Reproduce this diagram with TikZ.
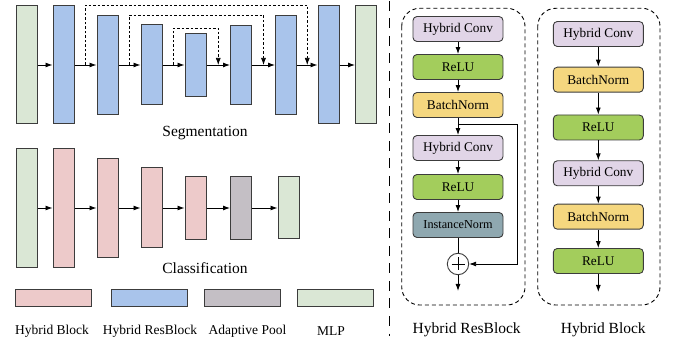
\documentclass[tikz,border=0pt]{standalone}
\usepackage{fontspec}
\setmainfont{Liberation Serif}
\usetikzlibrary{arrows.meta,calc,positioning}

\definecolor{mlpgreen}{HTML}{DAE7D5}
\definecolor{resblue}{HTML}{A9C4EB}
\definecolor{blockpink}{HTML}{EDCACA}
\definecolor{poolgray}{HTML}{C4BFC5}
\definecolor{convpurple}{HTML}{E1D5E7}
\definecolor{relugreen}{HTML}{A3CD5C}
\definecolor{bnyellow}{HTML}{F5D77F}
\definecolor{ingray}{HTML}{8FA8B0}
\definecolor{edge}{HTML}{3C3C3C}

\tikzset{
	bar/.style={draw=edge,line width=1pt,minimum width=21,inner sep=0},
	mlp/.style={bar,fill=mlpgreen},
	res/.style={bar,fill=resblue},
	hyb/.style={bar,fill=blockpink},
	pool/.style={bar,fill=poolgray},
	layer/.style={draw=edge,line width=0.9pt,rounded corners=4,minimum width=90,minimum height=25,inner sep=0,font=\fontsize{13.3}{15}\selectfont},
	conv/.style={layer,fill=convpurple},
	relu/.style={layer,fill=relugreen},
	bn/.style={layer,fill=bnyellow},
	inorm/.style={layer,fill=ingray,font=\fontsize{12.2}{14}\selectfont},
	title/.style={inner sep=0,font=\fontsize{15.5}{18}\selectfont},
	legendtext/.style={inner sep=0,font=\fontsize{13.5}{16}\selectfont},
	skip/.style={line width=0.7pt,dash pattern=on 2.5pt off 2pt},
	container/.style={line width=0.9pt,dash pattern=on 4pt off 3pt,rounded corners=18}
}

\begin{document}
\begin{tikzpicture}[x=1pt,y=-1pt,line width=0.9pt,>={Latex[length=7pt,width=5pt]}]
		\useasboundingbox (0,0) rectangle (674,344);
		% segmentation branch
		\foreach \n/\x/\h/\s in {sm1/27/118/mlp, s1/63.5/118/res, s2/107.5/99/res, s3/151.5/80/res, s4/195.5/63/res, s5/241/79/res, s6/286/99/res, s7/328.5/118/res, sm2/366/118/mlp}
			\node[\s,minimum height=\h] (\n) at (\x,65) {};
		\foreach \a/\b in {sm1/s1, s1/s2, s2/s3, s3/s4, s4/s5, s5/s6, s6/s7, s7/sm2}
			\draw[->] (\a) -- (\b);
		\coordinate (k1) at ($(s1.east)!0.5!(s2.west)$);
		\coordinate (k2) at ($(s6.east)!0.5!(s7.west)$);
		\coordinate (k3) at ($(s2.east)!0.5!(s3.west)$);
		\coordinate (k4) at ($(s5.east)!0.5!(s6.west)$);
		\coordinate (k5) at ($(s3.east)!0.5!(s4.west)$);
		\coordinate (k6) at ($(s4.east)!0.5!(s5.west)$);
		\draw[skip,->] (k1) -- ++(0,-60) -| (k2);
		\draw[skip,->] (k3) -- ++(0,-50) -| (k4);
		\draw[skip,->] (k5) -- ++(0,-37) -| (k6);
		\node[title] (segtitle) at (205,133) {Segmentation};
		% classification branch
		\foreach \n/\x/\h/\s in {cm1/27/119/mlp, c1/63.5/119/hyb, c2/107.5/99/hyb, c3/151.5/80/hyb, c4/195.5/63/hyb, cp/241/63/pool, cm2/288.5/62/mlp}
			\node[\s,minimum height=\h] (\n) at (\x,208) {};
		\foreach \a/\b in {cm1/c1, c1/c2, c2/c3, c3/c4, c4/cp, cp/cm2}
			\draw[->] (\a) -- (\b);
		\node[title] (clstitle) at (205,268) {Classification};
		% legend
		\foreach \s/\x/\tx/\t [count=\i] in {hyb/53/52/Hybrid Block, res/149/150/Hybrid ResBlock, pool/242.3/247.5/Adaptive Pool, mlp/335.5/331/MLP}{
			\node[\s,minimum width=76,minimum height=17] (lg\i) at (\x,298) {};
			\node[legendtext] (lt\i) at (\tx,331.5) {\t};
		}
		\draw[line width=1.8pt,dash pattern=on 10pt off 7.5pt] (389.5,1) -- (389.5,336);
		% hybrid resblock
		\draw[container] (401.7,8.3) rectangle (525,305);
		\node[conv] (r1) at (458,29) {Hybrid Conv};
		\node[relu] (r2) at (458,67) {ReLU};
		\node[bn] (r3) at (458,105) {BatchNorm};
		\node[conv] (r4) at (458,148) {Hybrid Conv};
		\node[relu] (r5) at (458,187) {ReLU};
		\node[inorm] (r6) at (458,225) {InstanceNorm};
		\node[draw=edge,circle,fill=white,minimum size=21.4,inner sep=0] (add) at (458,264) {};
		\draw[line width=0.6pt] ($(add.center)+(-6.5,0)$) -- ($(add.center)+(6.5,0)$);
		\draw[line width=0.6pt] ($(add.center)+(0,-6.5)$) -- ($(add.center)+(0,6.5)$);
		\foreach \a/\b in {r1/r2, r2/r3, r3/r4, r4/r5, r5/r6}
			\draw[->] (\a) -- (\b);
		\draw (r6) -- (add);
		\coordinate (br) at ($(r3.south)+(0,7)$);
		\draw[->] (br) -- ++(59.3,0) |- (add);
		\coordinate (rout) at (458,291);
		\draw[->] (add) -- (rout);
		\node[title] (restitle) at (466.7,330) {Hybrid ResBlock};
		% hybrid block
		\draw[container] (537.7,8.3) rectangle (660,305);
		\node[conv] (b1) at (598.3,34) {Hybrid Conv};
		\node[bn] (b2) at (598.3,79.7) {BatchNorm};
		\node[relu] (b3) at (598.3,127.5) {ReLU};
		\node[conv] (b4) at (598.3,173.3) {Hybrid Conv};
		\node[bn] (b5) at (598.3,216.7) {BatchNorm};
		\node[relu] (b6) at (598.3,261) {ReLU};
		\foreach \a/\b in {b1/b2, b2/b3, b3/b4, b4/b5, b5/b6}
			\draw[->] (\a) -- (\b);
		\coordinate (bout) at (598.3,292);
		\draw[->] (b6) -- (bout);
		\node[title] (blktitle) at (603.3,330) {Hybrid Block};
\end{tikzpicture}
\end{document}
